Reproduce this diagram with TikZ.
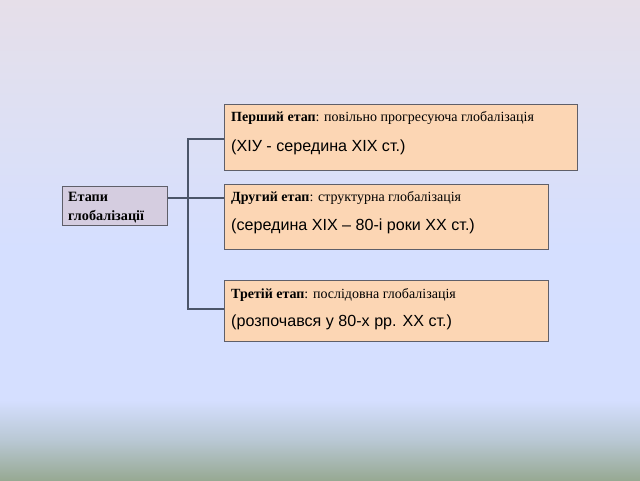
\documentclass[tikz,border=0pt]{standalone}
\usepackage{fontspec}
\setmainfont{Liberation Serif}
\newfontfamily\arialf{Liberation Sans}
\begin{document}
\begin{tikzpicture}[x=1pt,y=-1pt,
  stagebox/.style={draw=boxline,line width=0.9pt,fill=peach,inner sep=0pt,anchor=north west},
  mainbox/.style={draw=boxline,line width=0.9pt,fill=lilac,inner sep=0pt,anchor=north west},
  headtxt/.style={anchor=base west,inner sep=0pt,font=\fontsize{14}{16}\selectfont},
  subtxt/.style={anchor=base west,inner sep=0pt,font=\arialf\fontsize{16.1}{18}\selectfont},
  conn/.style={draw=connline,line width=1.2pt}]
\definecolor{peach}{RGB}{252,214,180}
\definecolor{lilac}{RGB}{213,205,224}
\definecolor{boxline}{RGB}{95,95,105}
\definecolor{connline}{RGB}{75,85,105}
\definecolor{bgA}{RGB}{230,223,233}
\definecolor{bgB}{RGB}{223,224,242}
\definecolor{bgC}{RGB}{213,223,255}
\definecolor{bgD}{RGB}{185,200,212}
\definecolor{bgE}{RGB}{151,169,147}
\useasboundingbox (0,0) rectangle (640,480);
\shade[top color=bgA,bottom color=bgB] (0,0) rectangle (640,100);
\shade[top color=bgB,bottom color=bgC] (0,100) rectangle (640,250);
\fill[bgC] (0,250) rectangle (640,400);
\shade[top color=bgC,bottom color=bgD] (0,400) rectangle (640,440);
\shade[top color=bgD,bottom color=bgE] (0,440) rectangle (640,480);
% boxes
\node[mainbox,minimum width=105pt,minimum height=39pt] (root) at (62,186) {};
\node[stagebox,minimum width=353pt,minimum height=66pt] (s1) at (224,104) {};
\node[stagebox,minimum width=324pt,minimum height=65pt] (s2) at (224,184) {};
\node[stagebox,minimum width=324pt,minimum height=61pt] (s3) at (224,280) {};
% texts
\node[headtxt,font=\bfseries\fontsize{14.2}{16}\selectfont] (r1) at (68,201) {Етапи};
\node[headtxt,font=\bfseries\fontsize{14.2}{16}\selectfont] (r2) at (68,220) {глобалізації};
\node[headtxt] (h1) at (231,121) {\textbf{Перший етап}: повільно прогресуюча глобалізація};
\node[headtxt] (h2) at (231,201) {\textbf{Другий етап}: структурна глобалізація};
\node[headtxt] (h3) at (231,298) {\textbf{Третій етап}: послідовна глобалізація};
\node[subtxt] (t1) at (231,151) {(XIУ - середина XIX ст.)};
\node[subtxt] (t2) at (231,230) {(середина XIX – 80-і роки XX ст.)};
\node[subtxt] (t3) at (231,326) {(розпочався у 80-х рр. XX ст.)};
% connectors
\coordinate (bus) at (188,198);
\draw[conn] (root.east |- bus) -- (bus);
\draw[conn] (s1.west |- 0,139) -| (188,198) |- (s3.west |- 0,309);
\draw[conn] (bus) -- (s2.west |- bus);
\end{tikzpicture}
\end{document}
